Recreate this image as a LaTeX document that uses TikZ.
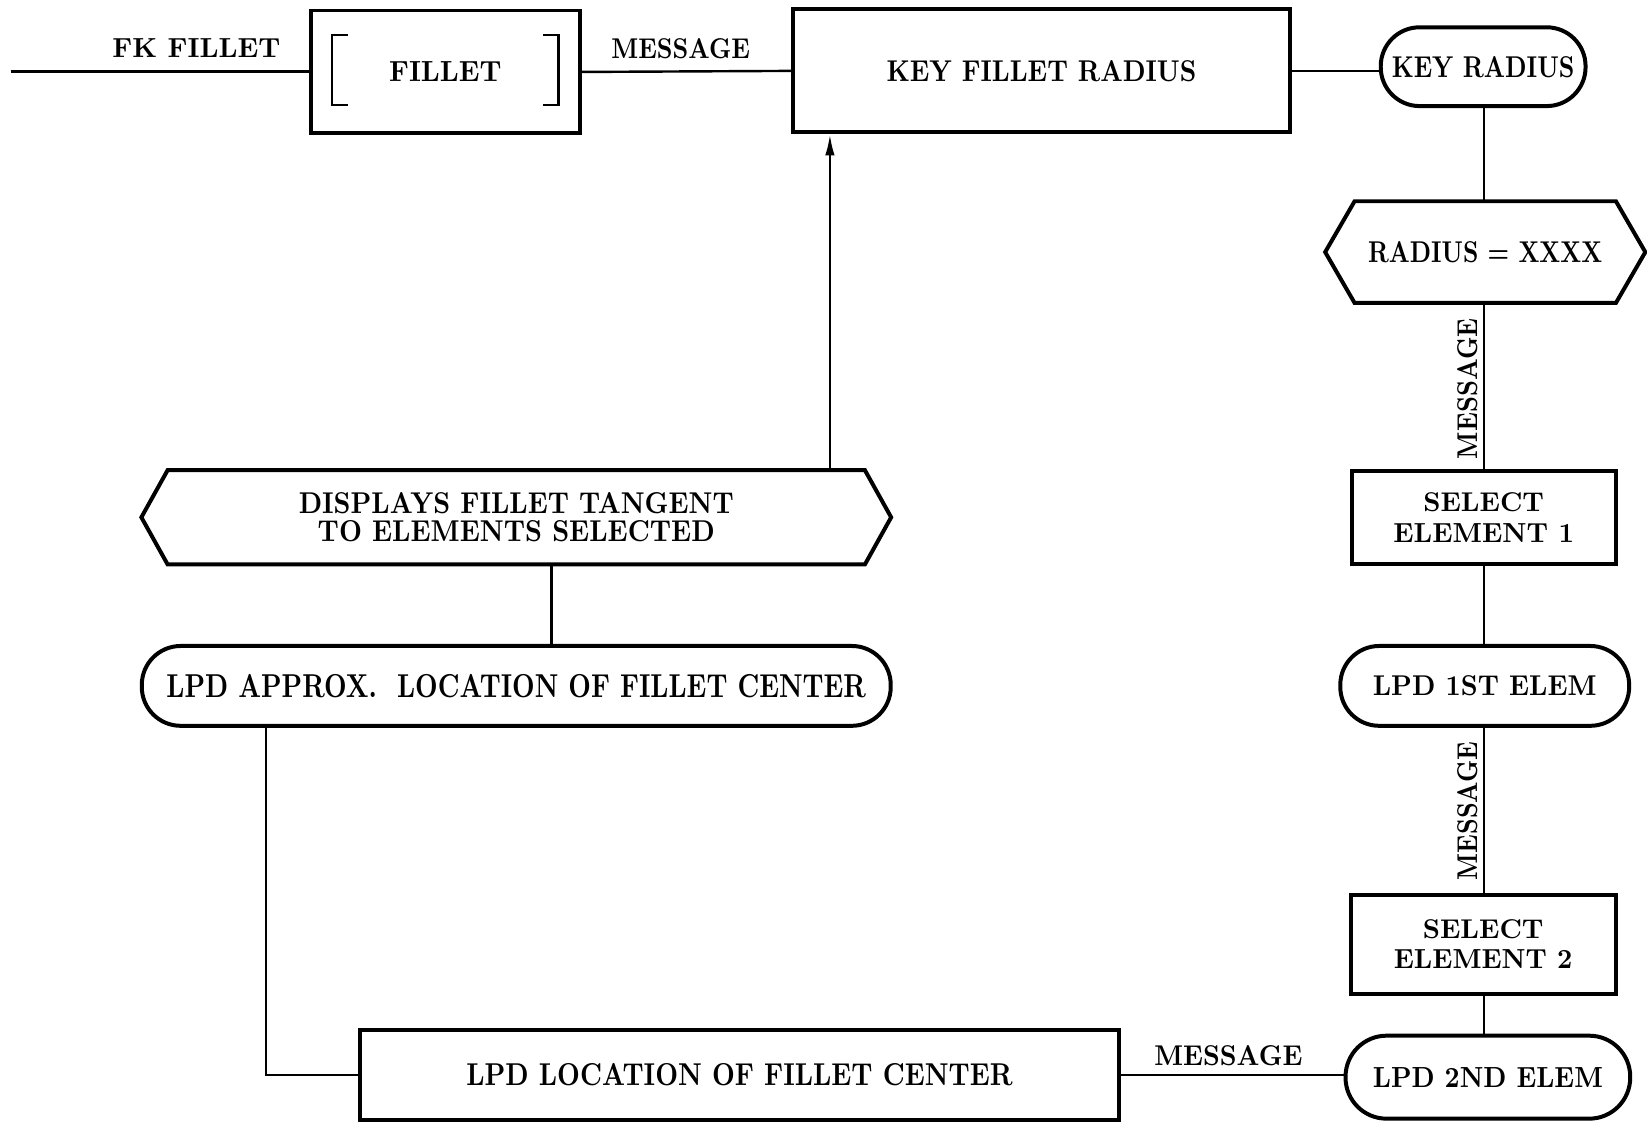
\documentclass[tikz,border=0pt]{standalone}
\usepackage{graphicx}
\usetikzlibrary{arrows.meta,calc}
\newlength\pxu
\setlength\pxu{0.5pt}
\newcommand\fittext[3]{\resizebox{#1\pxu}{#2\pxu}{\bfseries #3}}
\begin{document}
\begin{tikzpicture}[x=0.5pt,y=-0.5pt,
  boxline/.style={line width=1.9pt},
  conn/.style={line width=1.15pt},
  procbox/.style={draw,boxline,rectangle,inner sep=0pt},
  termbox/.style={draw,boxline,rectangle,inner sep=0pt,rounded corners=#1},
  hexbase/.style={rectangle,inner sep=0pt},
  lbl/.style={inner sep=0pt},
  twoline/.style={align=center,font=\fontsize{10pt}{#1}\selectfont},
]
\useasboundingbox (0,0) rectangle (1568,1069);

% top row
\node[lbl] (fk) at (187,46) {\fittext{160}{18}{FK FILLET}};
\node[procbox,minimum width=128pt,minimum height=58.5pt] (fillet) at (424,68.5) {\fittext{107}{19}{FILLET}};
\node[lbl] (msg1) at (648,46) {\fittext{132}{19}{MESSAGE}};
\node[procbox,minimum width=236.5pt,minimum height=58.5pt] (keyfr) at (991.5,67.5) {\fittext{295}{20}{KEY FILLET RADIUS}};
\node[termbox=18.5pt,minimum width=97.5pt,minimum height=37.5pt] (keyr) at (1412,63.5) {\fittext{174}{20}{KEY RADIUS}};

% bracket marks inside FILLET
\draw[conn] ($(fillet.north west)+(37,25)$) -- ++(-15,0) -- ++(0,67) -- ++(15,0);
\draw[conn] ($(fillet.north east)+(-37,25)$) -- ++(15,0) -- ++(0,67) -- ++(-15,0);

% right column
\node[hexbase,minimum width=152pt,minimum height=48pt] (radius) at (1414,240) {\fittext{223}{20}{RADIUS = XXXX}};
\draw[boxline] ([xshift=14pt]radius.north west) -- ([xshift=-14pt]radius.north east) -- (radius.east) -- ([xshift=-14pt]radius.south east) -- ([xshift=14pt]radius.south west) -- (radius.west) -- cycle;
\node[lbl,rotate=90] (msg2) at (1397,370) {\fittext{134}{19}{MESSAGE}};
\node[procbox,minimum width=125.5pt,minimum height=44.5pt,twoline=15pt] (sel1) at (1412.5,492.5) {\fittext{115}{18}{SELECT}\\\fittext{172}{18}{ELEMENT 1}};
\node[termbox=18.5pt,minimum width=137.5pt,minimum height=38pt] (lpd1) at (1413.5,653) {\fittext{213}{19}{LPD 1ST ELEM}};
\node[lbl,rotate=90] (msg3) at (1397,772) {\fittext{132}{19}{MESSAGE}};
\node[procbox,minimum width=126pt,minimum height=47pt,twoline=14.5pt] (sel2) at (1412,899) {\fittext{115}{18}{SELECT}\\\fittext{170}{18}{ELEMENT 2}};
\node[termbox=19.5pt,minimum width=135.5pt,minimum height=39.5pt] (lpd2) at (1416.5,1025.5) {\fittext{219}{19}{LPD 2ND ELEM}};

% bottom and left
\node[lbl] (msg4) at (1169.5,1005) {\fittext{141}{19}{MESSAGE}};
\node[procbox,minimum width=361pt,minimum height=42.5pt] (lpdloc) at (704,1023.5) {\fittext{520}{21}{LPD LOCATION OF FILLET CENTER}};
\node[termbox=18.5pt,minimum width=356.5pt,minimum height=38pt] (lpdapprox) at (491.5,653) {\fittext{666}{22}{LPD APPROX.\ \ LOCATION OF FILLET CENTER}};
\node[hexbase,minimum width=356.5pt,minimum height=44.5pt,twoline=13.5pt] (disp) at (491.5,492.5) {\fittext{414}{20}{DISPLAYS FILLET TANGENT}\\\fittext{378}{20}{TO ELEMENTS SELECTED}};
\draw[boxline] ([xshift=12.5pt]disp.north west) -- ([xshift=-12.5pt]disp.north east) -- (disp.east) -- ([xshift=-12.5pt]disp.south east) -- ([xshift=12.5pt]disp.south west) -- (disp.west) -- cycle;

% connectors
\coordinate (start) at (10,68);
\coordinate (colx) at (1413,0);
\draw[conn] (start) -- (start -| fillet.west);
\draw[conn] (fillet.east) -- (keyfr.west);
\draw[conn] (keyfr.east) -- (keyfr.east -| keyr.west);
\draw[conn] (colx |- keyr.south) -- (colx |- radius.north);
\draw[conn] (colx |- radius.south) -- (colx |- sel1.north);
\draw[conn] (colx |- sel1.south) -- (colx |- lpd1.north);
\draw[conn] (colx |- lpd1.south) -- (colx |- sel2.north);
\draw[conn] (colx |- sel2.south) -- (colx |- lpd2.north);
\draw[conn] (lpdloc.east) -- (lpdloc.east -| lpd2.west);
\draw[conn] ([xshift=-119.25pt]lpdapprox.south) |- (lpdloc.west);
\draw[conn] ([xshift=16.75pt]disp.south) -- ([xshift=16.75pt]lpdapprox.north);
\coordinate (arrx) at ([xshift=18.5pt]keyfr.south west);
\draw[conn,-{Latex[length=10pt,width=4.5pt]}] (arrx |- disp.north) -- (arrx);
\end{tikzpicture}
\end{document}
